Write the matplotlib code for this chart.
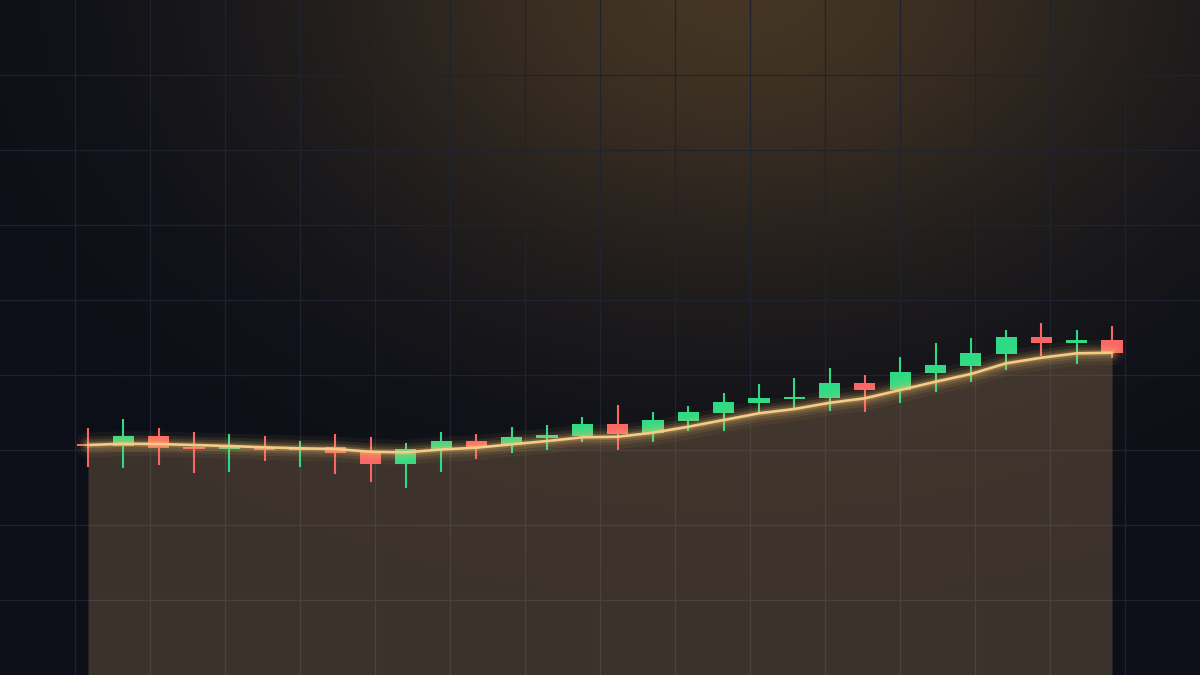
import numpy as np
import matplotlib
matplotlib.use("Agg")
import matplotlib.pyplot as plt

# ---- data ----
opens  = [100.2, 99.86, 101.86, 99.66, 99.2, 99.46, 99.0, 99.66, 98.8, 96.26,
          99.2, 100.8, 100.0, 101.46, 101.8, 104.2, 102.34, 104.86, 106.4, 108.4,
          109.26, 109.4, 112.46, 111.0, 114.46, 115.86, 118.2, 121.6, 120.4, 121.0]
highs  = [103.4, 105.2, 103.4, 102.6, 102.2, 101.8, 100.8, 102.2, 101.6, 100.4,
          102.6, 102.2, 103.6, 104.0, 105.6, 108.0, 106.6, 107.8, 110.4, 112.2,
          113.4, 115.4, 114.0, 117.6, 120.4, 121.4, 123.0, 124.4, 123.0, 123.8]
lows   = [95.6, 95.4, 96.0, 94.46, 94.66, 96.8, 95.66, 94.26, 92.66, 91.46,
          94.66, 97.2, 98.46, 99.0, 100.66, 99.0, 100.66, 102.86, 102.8, 106.46,
          107.2, 106.86, 106.66, 108.46, 110.66, 112.66, 115.0, 117.8, 116.2, 117.46]
closes = [99.9, 101.86, 99.46, 99.2, 99.8, 99.06, 99.46, 98.46, 96.26, 99.2,
          100.8, 99.66, 101.6, 102.06, 104.2, 102.2, 105.0, 106.6, 108.6, 109.4,
          109.66, 112.46, 111.0, 114.66, 116.06, 118.4, 121.6, 120.4, 121.0, 118.46]
trend  = [100.0, 100.26, 100.2, 100.0, 99.8, 99.54, 99.34, 99.2, 98.66, 98.54,
          99.1, 99.46, 100.14, 100.8, 101.54, 101.66, 102.46, 103.66, 105.0, 106.34,
          107.2, 108.44, 109.34, 111.0, 112.66, 114.2, 116.34, 117.46, 118.34, 118.46]

W, H = 1200, 675
fig = plt.figure(figsize=(12, 6.75), dpi=100)

# ---- background with warm radial glow and pixel grid ----
bg = fig.add_axes([0, 0, 1, 1])
bg.set_axis_off()
yy, xx = np.mgrid[0:H, 0:W].astype(float)
a = np.exp(-((xx - 740) / 440) ** 2 - ((yy + 20) / 310) ** 2)
base = np.array([12, 15, 24]) / 255.0
warm = np.array([68, 53, 36]) / 255.0
img = base[None, None, :] * (1 - a[..., None]) + warm[None, None, :] * a[..., None]
bg.imshow(img, extent=(0, W, H, 0), aspect="auto", interpolation="bilinear", zorder=0)
grid_c = (31 / 255, 35 / 255, 48 / 255)
for gx in range(75, W, 75):
    bg.axvline(gx, color=grid_c, lw=0.9, zorder=1)
for gy in range(75, H, 75):
    bg.axhline(gy, color=grid_c, lw=0.9, zorder=1)
bg.set_xlim(0, W)
bg.set_ylim(H, 0)

# ---- main chart ----
ax = fig.add_axes([0, 0, 1, 1])
ax.patch.set_alpha(0)
ax.set_axis_off()
n = len(closes)
x = np.arange(n)
ax.set_xlim(-2.492, 31.49)
ax.set_ylim(54, 189)

# area fill under trend line
ax.fill_between(x, trend, 54, color=(240 / 255, 185 / 255, 120 / 255), alpha=0.21,
                lw=0, zorder=2)

green = "#2edb84"
red = "#fa6464"
body_w = 0.6
for i in range(n):
    o, h, l, c = opens[i], highs[i], lows[i], closes[i]
    col = green if c >= o else red
    ax.vlines(x[i], l, h, color=col, lw=1.5, zorder=3)
    bottom = min(o, c)
    height = max(abs(c - o), 0.3)
    ax.bar(x[i], height, bottom=bottom, width=body_w, color=col, lw=0, zorder=4)

# glowing trend line
glow_c = (248 / 255, 195 / 255, 105 / 255)
for lw, al in [(18, 0.05), (12, 0.09), (8, 0.13), (4.5, 0.22)]:
    ax.plot(x, trend, color=glow_c, lw=lw, alpha=al, solid_capstyle="round", zorder=5)
ax.plot(x, trend, color="#f5cb88", lw=1.9, zorder=6, solid_capstyle="round")

fig.savefig("out.png", dpi=100)
